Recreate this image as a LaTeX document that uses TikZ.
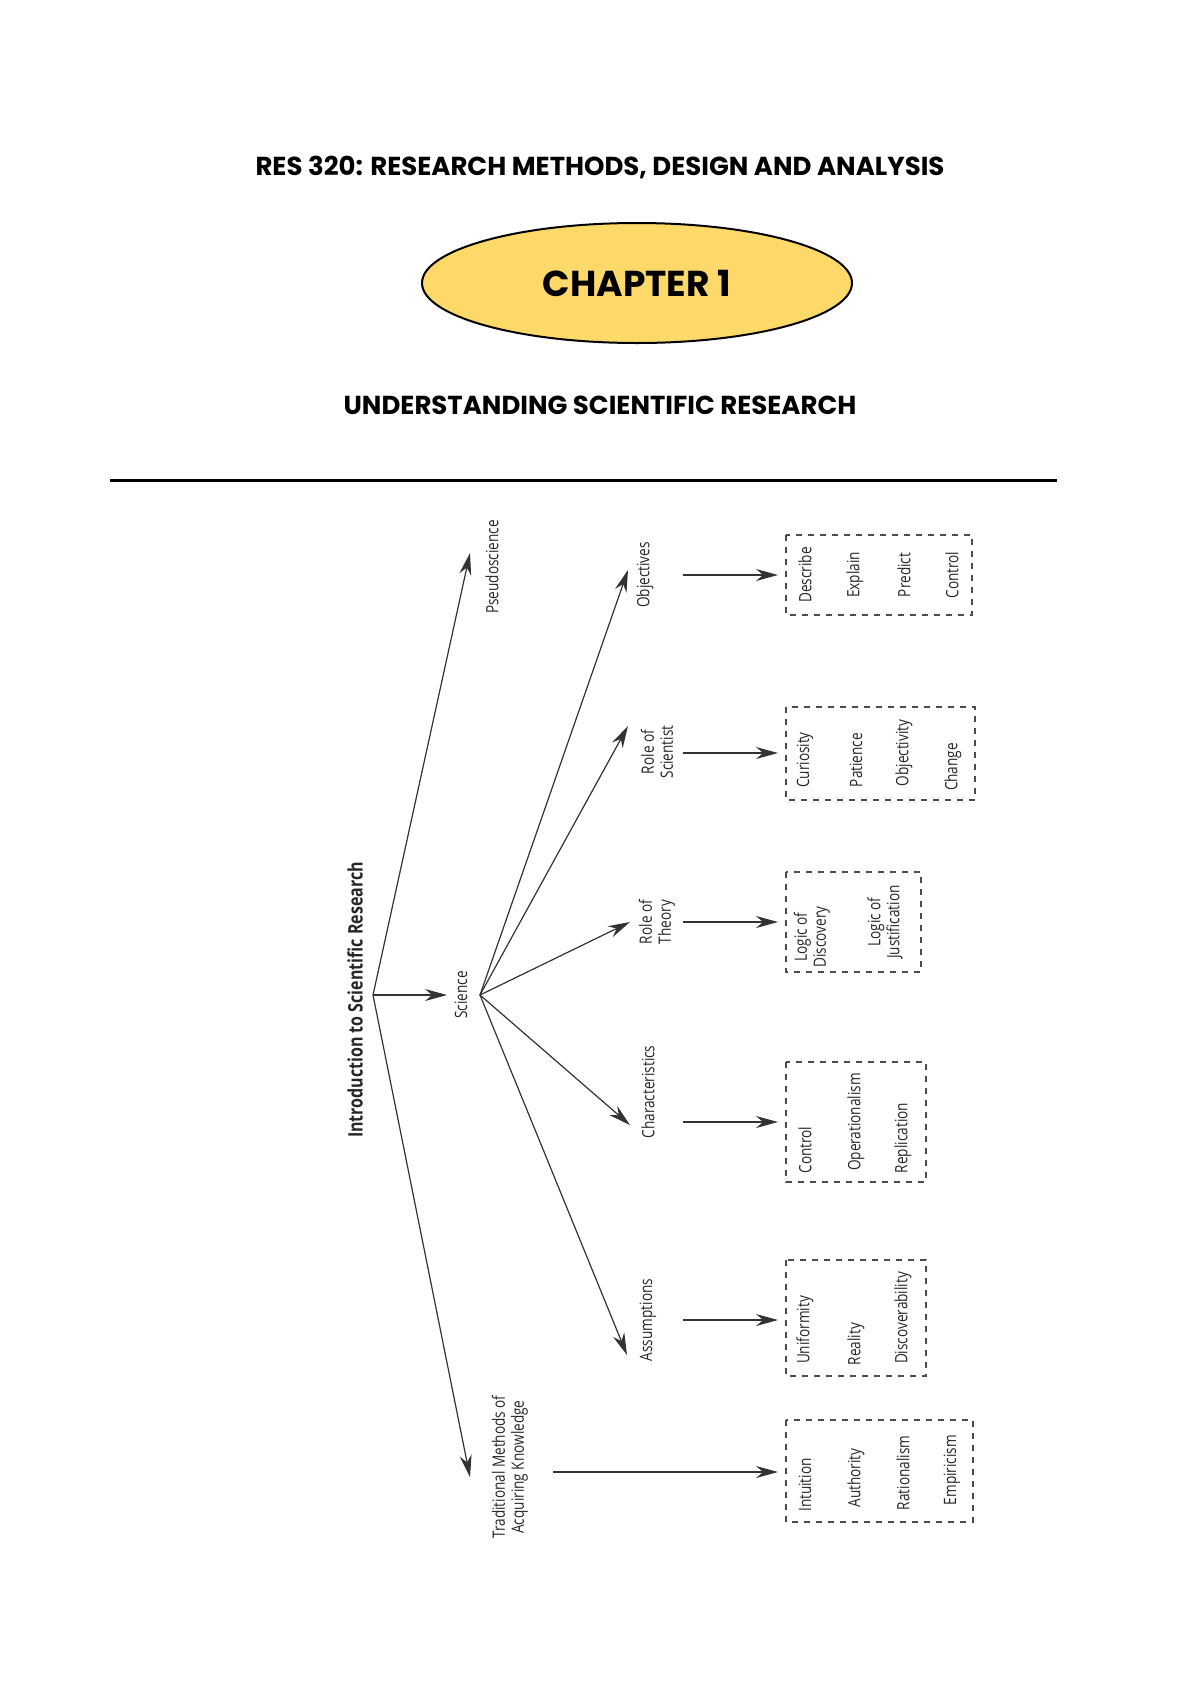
\documentclass[tikz,border=0pt]{standalone}
\usepackage{fontspec}
\usetikzlibrary{arrows.meta,shapes.geometric}
\newfontfamily\headfont{Poppins}
\newfontfamily\cond[FakeStretch=0.8]{Open Sans}
\definecolor{chap}{HTML}{FDD96A}
\begin{document}
\begin{tikzpicture}[x=0.5pt,y=-0.5pt,
  lab/.style={rotate=90,font=\cond\fontsize{8.5}{9.5}\selectfont,text=black!85,align=center,inner sep=1pt},
  item/.style={lab},
  arr/.style={-{Stealth[length=11pt,width=6pt]},line width=0.6pt,black!80},
  dbox/.style={draw=black!70,dashed,line width=0.6pt}]
\useasboundingbox (0,0) rectangle (1200,1698);
\node[font=\headfont\bfseries\fontsize{13}{15}\selectfont] (title) at (600,167) {RES 320: RESEARCH METHODS, DESIGN AND ANALYSIS};
\node[draw,line width=1pt,fill=chap,ellipse,minimum width=215pt,minimum height=60pt,font=\headfont\bfseries\fontsize{18}{20}\selectfont] (chap) at (637,283) {CHAPTER 1};
\node[font=\headfont\bfseries\fontsize{13}{15}\selectfont] (sub) at (600,405) {UNDERSTANDING SCIENTIFIC RESEARCH};
\draw[line width=1.5pt] (110,480) coordinate (l1) -- (1057,480) coordinate (l2);

\node[lab,font=\cond\bfseries\fontsize{10}{12}\selectfont] (root) at (355,1000) {Introduction to Scientific Research};
\coordinate (r) at (373,995);
\node[lab] (pseudo) at (492,567) {Pseudoscience};
\node[lab] (sci) at (461,995) {Science};
\node[lab] (trad) at (510,1467) {Traditional Methods of\\Acquiring Knowledge};
\coordinate (pt) at (470,553); \coordinate (st) at (447,995); \coordinate (tt) at (470,1477);
\draw[arr] (r) -- (pt);
\draw[arr] (r) -- (st);
\draw[arr] (r) -- (tt);
\coordinate (s) at (480,995);
\node[lab] (obj) at (645,575) {Objectives};
\node[lab] (ros) at (657,752) {Role of\\Scientist};
\node[lab] (rot) at (657,922) {Role of\\Theory};
\node[lab] (cha) at (648,1092) {Characteristics};
\node[lab] (ass) at (648,1320) {Assumptions};
\coordinate (o1) at (628,570); \coordinate (o2) at (628,726); \coordinate (o3) at (630,922);
\coordinate (o4) at (630,1125); \coordinate (o5) at (627,1355);
\foreach \t in {o1,o2,o3,o4,o5} \draw[arr] (s) -- (\t);

\foreach \y/\n in {575/a,753/b,922/c,1122/d,1320/e} {
  \coordinate (h\n) at (683,\y); \coordinate (k\n) at (778,\y);
  \draw[arr] (h\n) -- (k\n);}
\coordinate (hf) at (553,1472); \coordinate (kf) at (778,1472);
\draw[arr] (hf) -- (kf);

\draw[dbox] (786,535) rectangle (972,615);
\node[item] (b1a) at (805,575) {Describe};
\node[item] (b1b) at (855,575) {Explain};
\node[item] (b1c) at (904,575) {Predict};
\node[item] (b1d) at (952,575) {Control};

\draw[dbox] (786,707) rectangle (975,800);
\node[item] (b2a) at (805,760) {Curiosity};
\node[item] (b2b) at (856,760) {Patience};
\node[item] (b2c) at (904,753) {Objectivity};
\node[item] (b2d) at (953,767) {Change};

\draw[dbox] (786,872) rectangle (921,972);
\node[item] (b3a) at (812,937) {Logic of\\Discovery};
\node[item] (b3b) at (885,922) {Logic of\\Justification};

\draw[dbox] (786,1062) rectangle (926,1182);
\node[item] (b4a) at (805,1150) {Control};
\node[item] (b4b) at (856,1122) {Operationalism};
\node[item] (b4c) at (903,1138) {Replication};

\draw[dbox] (786,1260) rectangle (926,1376);
\node[item] (b5a) at (805,1330) {Uniformity};
\node[item] (b5b) at (856,1344) {Reality};
\node[item] (b5c) at (903,1318) {Discoverability};

\draw[dbox] (786,1420) rectangle (973,1522);
\node[item] (b6a) at (805,1485) {Intuition};
\node[item] (b6b) at (856,1478) {Authority};
\node[item] (b6c) at (903,1473) {Rationalism};
\node[item] (b6d) at (952,1470) {Empiricism};
\end{tikzpicture}
\end{document}
